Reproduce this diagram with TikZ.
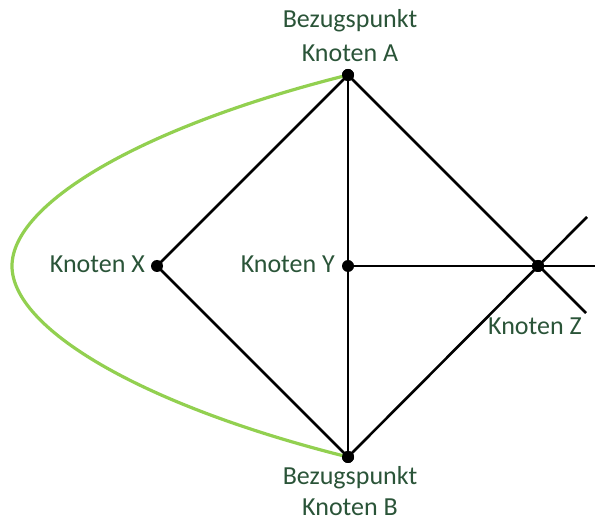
\documentclass[tikz,border=0pt]{standalone}
\usepackage{fontspec}
\setmainfont{Carlito}
\definecolor{txtgreen}{RGB}{42,84,56}
\definecolor{lightgreen}{RGB}{146,208,80}
\begin{document}
\begin{tikzpicture}[x=1pt,y=-1pt,
  dot/.style={circle,fill=black,inner sep=0pt,minimum size=12pt},
  edge/.style={draw=black,line width=2.6pt},
  lbl/.style={text=txtgreen,font=\fontsize{26}{32}\selectfont,inner sep=0pt,align=center}]
\useasboundingbox (0,0) rectangle (595,521);
\node[dot] (A) at (348,75) {};
\node[dot] (B) at (348,457) {};
\node[dot] (X) at (157,266) {};
\node[dot] (Y) at (348,266) {};
\node[dot] (Z) at (538,266) {};
\coordinate (Zur) at (587,217);
\coordinate (Zlr) at (586,313);
\coordinate (Zr) at (595,266);
\coordinate (L) at (12,266);
\draw[edge] (A.center) -- (X.center) -- (B.center);
\draw[edge] (A.center) -- (B.center);
\draw[edge] (Y.center) -- (Zr);
\draw[edge] (A.center) -- (Zlr);
\draw[edge] (B.center) -- (Zur);
\draw[lightgreen,line width=3.2pt] (A.center) .. controls (140,127) and (12,204) .. (L)
  .. controls (12,328) and (140,405) .. (B.center);
\node[dot] at (A) {};\node[dot] at (B) {};\node[dot] at (Z) {};
\node[lbl,anchor=base] (la1) at (350,28) {Bezugspunkt};
\node[lbl,anchor=base] (la2) at (350,62) {Knoten A};
\node[lbl,anchor=base] (lb1) at (350,485) {Bezugspunkt};
\node[lbl,anchor=base] (lb2) at (350,515) {Knoten B};
\node[lbl,anchor=base east] (lx) at (145,273) {Knoten X};
\node[lbl,anchor=base east] (ly) at (335,273) {Knoten Y};
\node[lbl,anchor=base west] (lz) at (488,335) {Knoten Z};
\end{tikzpicture}
\end{document}
